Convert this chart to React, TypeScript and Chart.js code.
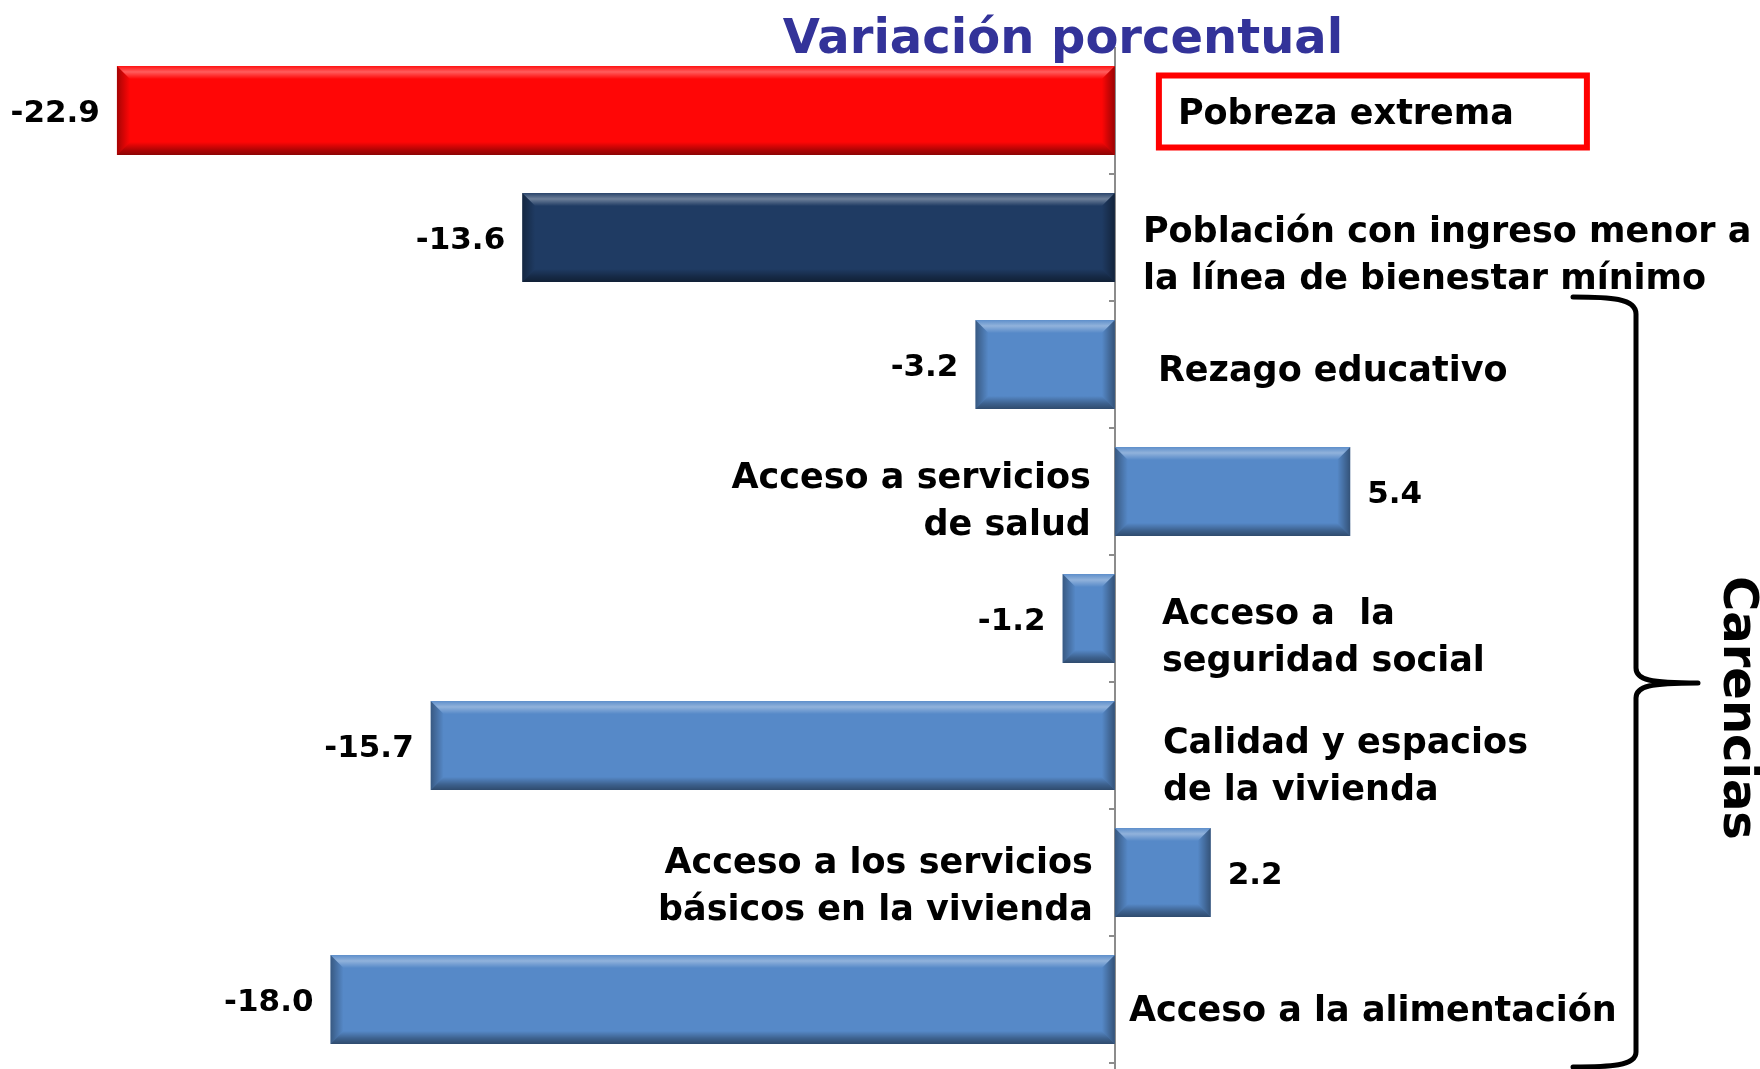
import React, { useEffect, useRef } from "react";
import { Chart, registerables } from "chart.js";

Chart.register(...registerables);

// ---- data ----
const categories: string[][] = [
  ["Pobreza extrema"],
  ["Población con ingreso menor a", "la línea de bienestar mínimo"],
  ["Rezago educativo"],
  ["Acceso a servicios", "de salud"],
  ["Acceso a  la", "seguridad social"],
  ["Calidad y espacios", "de la vivienda"],
  ["Acceso a los servicios", "básicos en la vivienda"],
  ["Acceso a la alimentación"],
];
const values: number[] = [-22.9, -13.6, -3.2, 5.4, -1.2, -15.7, 2.2, -18.0];
const barColors: string[] = ["#FF0606", "#1F3B63", "#5689C8", "#5689C8", "#5689C8", "#5689C8", "#5689C8", "#5689C8"];
const titleText = "Variación porcentual";
const groupText = "Carencias";

// ---- label layout (offsets from the zero axis / bar centre) ----
const labelDx: number[] = [63, 28, 43, -24, 47, 48, -22, 14];
const labelDy: number[] = [4.5, 18.5, 7.5, 11, 20, 21.5, 15, 12.5];
const LINE_H = 47;
const FONT = '"DejaVu Sans", "Verdana", sans-serif';

function bevel(ctx: CanvasRenderingContext2D, L: number, T: number, R: number, B: number) {
  const b = Math.min(13, (R - L) / 2);
  // top
  let g = ctx.createLinearGradient(0, T, 0, T + b);
  g.addColorStop(0, "rgba(255,255,255,0.05)");
  g.addColorStop(0.45, "rgba(255,255,255,0.35)");
  g.addColorStop(1, "rgba(255,255,255,0.0)");
  ctx.fillStyle = g;
  ctx.beginPath();
  ctx.moveTo(L, T); ctx.lineTo(R, T); ctx.lineTo(R - b, T + b); ctx.lineTo(L + b, T + b); ctx.closePath();
  ctx.fill();
  // bottom
  g = ctx.createLinearGradient(0, B - b, 0, B);
  g.addColorStop(0, "rgba(0,0,0,0.0)");
  g.addColorStop(0.6, "rgba(0,0,0,0.3)");
  g.addColorStop(1, "rgba(0,0,0,0.45)");
  ctx.fillStyle = g;
  ctx.beginPath();
  ctx.moveTo(L, B); ctx.lineTo(R, B); ctx.lineTo(R - b, B - b); ctx.lineTo(L + b, B - b); ctx.closePath();
  ctx.fill();
  // left
  g = ctx.createLinearGradient(L, 0, L + b, 0);
  g.addColorStop(0, "rgba(0,0,0,0.35)");
  g.addColorStop(1, "rgba(0,0,0,0.0)");
  ctx.fillStyle = g;
  ctx.beginPath();
  ctx.moveTo(L, T); ctx.lineTo(L + b, T + b); ctx.lineTo(L + b, B - b); ctx.lineTo(L, B); ctx.closePath();
  ctx.fill();
  // right
  g = ctx.createLinearGradient(R - b, 0, R, 0);
  g.addColorStop(0, "rgba(0,0,0,0.0)");
  g.addColorStop(1, "rgba(0,0,0,0.4)");
  ctx.fillStyle = g;
  ctx.beginPath();
  ctx.moveTo(R, T); ctx.lineTo(R - b, T + b); ctx.lineTo(R - b, B - b); ctx.lineTo(R, B); ctx.closePath();
  ctx.fill();
}

const decor = {
  id: "decor",
  beforeDatasetsDraw(chart: any) {
    const ctx = chart.ctx as CanvasRenderingContext2D;
    const xs = chart.scales.x;
    const x0 = Math.round(xs.getPixelForValue(0));
    const top = chart.chartArea.top;
    const bottom = chart.chartArea.bottom;
    ctx.save();
    ctx.strokeStyle = "#8C8C8C";
    ctx.lineWidth = 2;
    ctx.beginPath();
    ctx.moveTo(x0, top);
    ctx.lineTo(x0, chart.height);
    ctx.stroke();
    const n = categories.length;
    const step = (bottom - top) / n;
    for (let k = 1; k <= n; k++) {
      const y = Math.round(top + step * k);
      ctx.beginPath();
      ctx.moveTo(x0 - 6, y);
      ctx.lineTo(x0, y);
      ctx.stroke();
    }
    ctx.restore();
  },
  afterDatasetsDraw(chart: any) {
    const ctx = chart.ctx as CanvasRenderingContext2D;
    const xs = chart.scales.x;
    const x0 = xs.getPixelForValue(0);
    const meta = chart.getDatasetMeta(0);
    ctx.save();
    meta.data.forEach((el: any, i: number) => {
      const L = Math.min(el.x, el.base);
      const R = Math.max(el.x, el.base);
      const T = el.y - el.height / 2;
      const B = el.y + el.height / 2;
      bevel(ctx, L, T, R, B);

      // value label
      const v = values[i];
      ctx.fillStyle = "#000";
      ctx.font = `bold 31px ${FONT}`;
      ctx.textBaseline = "middle";
      if (v < 0) {
        ctx.textAlign = "right";
        ctx.fillText(v.toFixed(1), L - 17, el.y + 3);
      } else {
        ctx.textAlign = "left";
        ctx.fillText(v.toFixed(1), R + 17, el.y + 3);
      }

      // category label
      const lines = categories[i];
      ctx.font = `bold 35px ${FONT}`;
      const dx = labelDx[i];
      ctx.textAlign = dx < 0 ? "right" : "left";
      const cy = el.y + labelDy[i];
      const startY = cy - ((lines.length - 1) * LINE_H) / 2;
      lines.forEach((ln, j) => {
        ctx.fillText(ln, x0 + dx, startY + j * LINE_H);
      });
    });

    // box around first label
    const first = meta.data[0];
    ctx.strokeStyle = "#FF0000";
    ctx.lineWidth = 6;
    ctx.strokeRect(x0 + 44, first.y - 35, 428, 72);

    // title
    ctx.fillStyle = "#333399";
    ctx.font = `bold 48px ${FONT}`;
    ctx.textAlign = "center";
    ctx.textBaseline = "alphabetic";
    ctx.fillText(titleText, 1063, 53);

    // brace
    ctx.strokeStyle = "#000";
    ctx.lineWidth = 5;
    ctx.lineCap = "round";
    ctx.lineJoin = "round";
    ctx.beginPath();
    ctx.moveTo(1573, 297);
    ctx.bezierCurveTo(1610, 297, 1636, 298, 1636, 314);
    ctx.lineTo(1636, 668);
    ctx.bezierCurveTo(1636, 680, 1650, 683, 1698, 683);
    ctx.bezierCurveTo(1650, 683, 1636, 686, 1636, 698);
    ctx.lineTo(1636, 1052);
    ctx.bezierCurveTo(1636, 1066, 1610, 1067, 1573, 1067);
    ctx.stroke();

    // group label
    ctx.save();
    ctx.translate(1736, 708);
    ctx.rotate(Math.PI / 2);
    ctx.fillStyle = "#000";
    ctx.font = `bold 48px ${FONT}`;
    ctx.textAlign = "center";
    ctx.textBaseline = "middle";
    ctx.fillText(groupText, 0, 0);
    ctx.restore();

    ctx.restore();
  },
};

export default function App() {
  const ref = useRef<HTMLCanvasElement>(null);
  useEffect(() => {
    if (!ref.current) return;
    const chart = new Chart(ref.current, {
      type: "bar",
      data: {
        labels: categories.map((c) => c.join(" ")),
        datasets: [
          {
            data: values,
            backgroundColor: barColors,
            borderWidth: 0,
            categoryPercentage: 1,
            barPercentage: 0.7,
          },
        ],
      },
      options: {
        indexAxis: "y",
        responsive: false,
        animation: false,
        devicePixelRatio: 1,
        layout: { padding: { left: 69, right: 35, top: 47, bottom: 6 } },
        scales: {
          x: { display: false, min: -24, max: 14 },
          y: { display: false },
        },
        plugins: {
          legend: { display: false },
          tooltip: { enabled: false },
          title: { display: false },
        },
      },
      plugins: [decor],
    } as any);
    return () => chart.destroy();
  }, []);
  return (
    <div style={{ position: "fixed", left: 0, top: 0, width: 1760, height: 1069, background: "#fff" }}>
      <canvas ref={ref} width={1760} height={1069} style={{ width: 1760, height: 1069, display: "block" }} />
    </div>
  );
}
